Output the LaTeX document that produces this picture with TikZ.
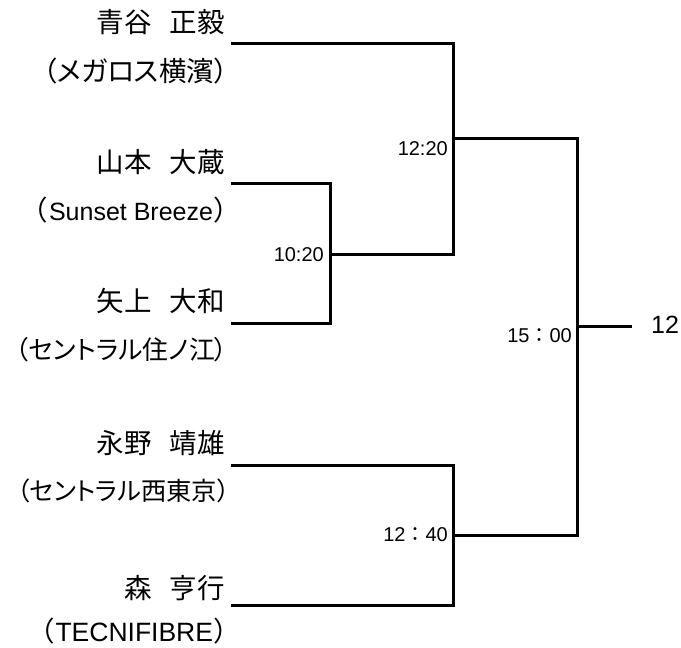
\documentclass[tikz,border=0pt]{standalone}
\usepackage{fontspec}
\setmainfont{Liberation Sans}
\newfontfamily\cjk{Noto Sans CJK JP}
\newfontfamily\cjkp[Scale=1.1,RawFeature=+palt]{Noto Sans CJK JP}
\newcommand{\gapsp}{\hspace{18pt}}
\begin{document}
\begin{tikzpicture}[x=1pt,y=-1pt,
  namelbl/.style={anchor=east,inner sep=0pt,font=\fontsize{25}{27}\selectfont},
  longlbl/.style={anchor=east,inner sep=0pt,font=\fontsize{23.5}{26}\selectfont},
  timelbl/.style={anchor=east,inner sep=0pt,font=\fontsize{20}{22}\selectfont},
  bline/.style={line width=3pt,line cap=rect}]
\useasboundingbox (0,0) rectangle (681,648);
% names
\node[namelbl] (n1) at (225,22) {\cjkp 青谷\gapsp 正毅};
\node[namelbl] (c1) at (228,71) {\cjkp （メガロス横濱）};
\node[namelbl] (n2) at (225,162) {\cjkp 山本\gapsp 大蔵};
\node[namelbl] (c2) at (228,210) {{\cjkp （}\hspace{2pt}Sunset Breeze\hspace{1pt}{\cjkp ）}};
\node[namelbl] (n3) at (225,301) {\cjkp 矢上\gapsp 大和};
\node[longlbl] (c3) at (228,350) {\cjkp （セントラル住ノ江）};
\node[namelbl] (n4) at (225,443) {\cjkp 永野\gapsp 靖雄};
\node[longlbl,font=\fontsize{23}{26}\selectfont] (c4) at (230,491) {\cjkp （セントラル西東京）};
\node[namelbl] (n5) at (225,588) {\cjkp 森\gapsp 亨行};
\node[namelbl] (c5) at (228,631) {{\cjkp （}\hspace{2pt}{\fontsize{26.5}{28}\selectfont TECNIFIBRE}\hspace{1pt}{\cjkp ）}};
% line ends
\coordinate (a1) at (232,43);
\coordinate (a2) at (232,183);
\coordinate (a3) at (232,323);
\coordinate (a4) at (232,465);
\coordinate (a5) at (232,605);
\coordinate (b23t) at (330,183);
\coordinate (b23b) at (330,323);
\coordinate (b23) at (330,254);
\coordinate (m1t) at (453,43);
\coordinate (m1b) at (453,254);
\coordinate (m1) at (453,138);
\coordinate (m2t) at (453,465);
\coordinate (m2b) at (453,605);
\coordinate (m2) at (453,535);
\coordinate (ft) at (577,138);
\coordinate (fb) at (577,535);
\coordinate (f) at (577,326);
\coordinate (fe) at (630,326);
% bracket
\draw[bline] (a1) -- (m1t) -- (m1b) -- (b23);
\draw[bline] (a2) -- (b23t) -- (b23b) -- (a3);
\draw[bline] (m1) -- (ft) -- (fb) -- (m2);
\draw[bline] (a4) -- (m2t) -- (m2b) -- (a5);
\draw[bline] (f) -- (fe);
% times
\node[timelbl] (t1) at (448,149) {12:20};
\node[timelbl] (t2) at (324,255) {10:20};
\node[timelbl] (t3) at (572,336) {15{\cjk ：}00};
\node[timelbl] (t4) at (448,535) {12{\cjk ：}40};
\node[anchor=west,inner sep=0pt,font=\fontsize{25}{27}\selectfont] (res) at (651,325) {12};
\end{tikzpicture}
\end{document}
